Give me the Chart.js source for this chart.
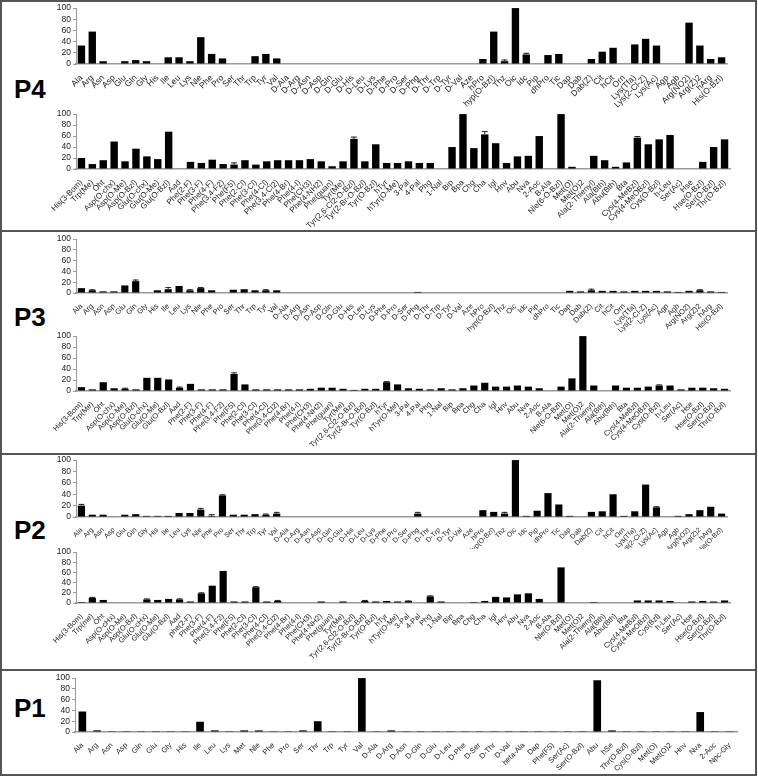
<!DOCTYPE html>
<html>
<head>
<meta charset="utf-8">
<script src="https://cdn.jsdelivr.net/npm/chart.js@4.4.1/dist/chart.umd.min.js"></script>
<style>
  html, body { margin: 0; padding: 0; background: #fff; }
  #wrap { position: relative; width: 758px; height: 776px; overflow: hidden; }
  .box { position: absolute; left: 0; width: 757px; border: 2px solid #555; box-sizing: border-box; }
  .tag { position: absolute; left: 14px; font: bold 26px "Liberation Sans", Arial, sans-serif; line-height: 1; color: #000; }
  canvas { position: absolute; left: 0; }
</style>
</head>
<body>
<div id="wrap">
  <div class="box" style="top:0;height:232px"></div>
  <div class="box" style="top:230px;height:225px"></div>
  <div class="box" style="top:453px;height:218px"></div>
  <div class="box" style="top:669px;height:107px"></div>
  <div class="tag" style="top:76px">P4</div>
  <div class="tag" style="top:304px">P3</div>
  <div class="tag" style="top:517px">P2</div>
  <div class="tag" style="top:695px">P1</div>
  <canvas id="p4a"></canvas>
  <canvas id="p4b"></canvas>
  <canvas id="p3a"></canvas>
  <canvas id="p3b"></canvas>
  <canvas id="p2a"></canvas>
  <canvas id="p2b"></canvas>
  <canvas id="p1"></canvas>
</div>
<script>
// --- categories ---
const labelsA = ['Ala','Arg','Asn','Asp','Glu','Gln','Gly','His','Ile','Leu','Lys','Nle','Phe','Pro','Ser','Thr','Trp','Tyr','Val',
  'D-Ala','D-Arg','D-Asn','D-Asp','D-Gln','D-Glu','D-His','D-Leu','D-Lys','D-Phe','D-Pro','D-Ser','D-Phg','D-Thr','D-Trp','D-Tyr','D-Val',
  'Aze','hPro','hyp(O-Bzl)','Thz','Oic','Idc','Pip','dhPro','Tic','Dap','Dab','Dab(Z)','Cit','hCit','Orn',
  'Lys(Tfa)','Lys(2-Cl-Z)','Lys(Ac)','Agp','Agb','Arg(NO2)','Arg(Z)2','hArg','His(O-Bzl)'];

const labelsB = ['His(3-Bom)','Trp(Me)','Oht','Asp(O-chx)','Asp(O-Me)','Asp(O-Bzl)','Glu(O-chx)','Glu(O-Me)','Glu(O-Bzl)','Aad',
  'Phe(2-F)','Phe(3-F)','Phe(4-F)','Phe(3,4-F2)','Phe(F5)','Phe(2-Cl)','Phe(3-Cl)','Phe(4-Cl)','Phe(3,4-Cl2)','Phe(4-Br)',
  'Phe(4-I)','Phe(CH3)','Phe(4-NH2)','Phe(guan)','Tyr(Me)','Tyr(2,6-Cl2-O-Bzl)','Tyr(2-Br-O-Bzl)','Tyr(O-Bzl)','hTyr','hTyr(O-Me)',
  '3-Pal','4-Pal','Phg','1-Nal','Bip','Bpa','Chg','Cha','Igl','Hnv','Abu','Nva','2-Aoc','B-Ala','Nle(6-O-Bzl)',
  'Met(O)','Met(O)2','Ala(2-Thienyl)','Ala(Bth)','Abu(Bth)','Bta','Cys(4-MeBzl)','Cys(4-MeOBzl)','Cys(O-Bzl)','h-Leu',
  'Ser(Ac)','Hse','Hse(O-Bzl)','Ser(O-Bzl)','Thr(O-Bzl)'];

const labelsP1 = ['Ala','Arg','Asn','Asp','Gln','Glu','Gly','His','Ile','Leu','Lys','Met','Nle','Phe','Pro','Ser','Thr','Trp','Tyr','Val',
  'D-Ala','D-Arg','D-Asn','D-Gln','D-Glu','D-Leu','D-Phe','D-Ser','D-Thr','D-Val','beta-Ala','Dap','Phe(F5)','Ser(Ac)','Ser(O-Bzl)',
  'Abu','hSe','Thr(O-Bzl)','Cys(O-Bzl)','Met(O)','Met(O)2','Hnv','Nva','2-Aoc','Npc-Gly'];

// label spelling used in the P2 panel
const p2Names = {'hyp(O-Bzl)':'Hyp(O-Bzl)','Trp(Me)':'Trp(me)','Asp(O-chx)':'Asp(O-cHx)','Glu(O-chx)':'Glu(O-cHx)',
  'Phe(2-F)':'phe(2-F)','Nle(6-O-Bzl)':'Nle(O-Bzl)','Cys(O-Bzl)':'Cys(Bzl)'};

const yTicks = [0, 20, 40, 60, 80, 100];

// --- values (%) ---
const p4a = [33,58,5,0,5,7,5,0,12,12,5,48,18,10,0,0,14,18,10,
  0,0,0,0,0,0,0,0,0,0,0,0,0,0,0,0,0,
  0,9,58,5,100,17,0,16,18,0,0,9,22,29,0,
  35,45,33,0,0,74,33,9,12];
const p4aErr = {'Thz':3, 'Idc':3};

const p4b = [20,9,16,50,14,37,23,18,68,0,
  13,11,17,9,8,16,8,14,16,16,
  16,18,14,5,14,55,14,45,11,11,
  14,11,11,0,40,100,38,63,47,11,23,24,60,0,100,
  4,0,24,16,4,12,57,45,54,62,
  0,0,13,40,54];
const p4bErr = {'Phe(F5)':4, 'Tyr(2,6-Cl2-O-Bzl)':4, 'Cha':6, 'Cys(4-MeBzl)':3};

const p3a = [9,5,3,3,14,22,0,5,7,13,5,9,5,1,6,7,5,5,5,
  0,0,0,0,0,0,0,0,1,0,0,0,2,0,0,0,0,
  0,0,0,0,0,1,0,0,0,4,3,5,4,4,3,
  4,4,4,3,2,4,5,3,2];
const p3aErr = {'Arg':2,'Gln':3,'Ile':4,'Lys':2,'Nle':2,'Tyr':2,'Dab(Z)':3,'Arg(Z)2':2};

const p3b = [7,3,16,5,4,3,24,24,21,6,
  13,3,3,3,31,12,3,3,3,3,
  3,4,6,6,4,2,4,4,16,12,
  5,4,3,5,3,5,10,15,8,8,10,8,5,0,8,
  23,100,10,0,10,6,6,8,10,10,
  3,6,6,5,4];
const p3bErr = {'Asp(O-Me)':2,'Aad':2,'Phe(F5)':3,'hTyr':2,'Cys(O-Bzl)':2};

const p2a = [20,4,4,1,4,5,2,2,2,7,7,13,2,38,4,4,5,4,6,
  0,0,0,0,0,0,0,0,0,0,0,0,6,0,0,0,0,
  0,12,9,6,100,2,11,42,22,2,0,9,10,40,2,
  10,57,17,0,2,5,12,18,6];
const p2aErr = {'Ala':3,'Nle':3,'Phe':3,'Pro':2,'Tyr':2,'Val':3,'D-Phg':3,'Thz':3,'Lys(Ac)':2};

const p2b = [2,10,6,1,1,1,7,6,8,7,
  3,19,34,63,3,3,31,3,4,1,
  1,1,3,1,3,1,4,3,4,3,
  4,1,13,3,1,1,2,4,12,11,17,19,8,1,70,
  1,1,2,1,1,1,5,5,5,4,
  1,3,4,3,5];
const p2bErr = {'Trp(Me)':2,'Glu(O-chx)':2,'Aad':2,'Phe(3-F)':2,'Phe(3-Cl)':2,'Phe(3,4-Cl2)':2,'Tyr(2-Br-O-Bzl)':2,'3-Pal':1,'Phg':2};

const p1 = [38,3,1.5,1.5,1.5,1.5,1.5,1.5,19,3,1.5,3,3,1.5,1.5,3,20,1.5,1.5,100,
  1.5,3,1.5,1.5,1.5,1.5,1.5,1.5,1.5,1.5,1.5,1.5,1.5,1.5,1.5,
  96,3,1.5,1.5,1.5,1.5,1.5,37,1.5,1.5];

// --- layout of each plot (pixels in the 758x776 page) ---
const PAD_TOP = 6;
const layouts = {
  p4a: {top: 7,   bottom: 64,  labelH: 44, left: 76, right: 727, font: 8.5, bar: 0.68},
  p4b: {top: 113, bottom: 169, labelH: 60, left: 76, right: 730, font: 8,   bar: 0.68},
  p3a: {top: 238, bottom: 293, labelH: 40, left: 76, right: 727, font: 7.5, bar: 0.66},
  p3b: {top: 335, bottom: 391, labelH: 60, left: 76, right: 730, font: 7.5, bar: 0.66},
  p2a: {top: 459, bottom: 517, labelH: 32, left: 76, right: 727, font: 7,   bar: 0.66},
  p2b: {top: 551, bottom: 603, labelH: 66, left: 76, right: 730, font: 7.5, bar: 0.66},
  p1:  {top: 677, bottom: 732, labelH: 40, left: 75, right: 737, font: 7.5, bar: 0.52}
};

function errorPlugin(labels, errs) {
  return {
    id: 'errorBars',
    afterDatasetsDraw(chart) {
      const meta = chart.getDatasetMeta(0);
      const vals = chart.data.datasets[0].data;
      const y = chart.scales.y;
      const ctx = chart.ctx;
      ctx.save();
      ctx.strokeStyle = '#222';
      ctx.lineWidth = 1;
      labels.forEach((name, i) => {
        const e = errs[name];
        if (!e) return;
        const bar = meta.data[i];
        const y0 = y.getPixelForValue(vals[i]);
        const y1 = y.getPixelForValue(vals[i] + e);
        const hw = bar.width * 0.4;
        ctx.beginPath();
        ctx.moveTo(bar.x, y0); ctx.lineTo(bar.x, y1);
        ctx.moveTo(bar.x - hw, y1 + 0.5); ctx.lineTo(bar.x + hw, y1 + 0.5);
        ctx.stroke();
      });
      ctx.restore();
    }
  };
}

function makeChart(id, labels, values, errs, names) {
  const L = layouts[id];
  const canvas = document.getElementById(id);
  const h = PAD_TOP + (L.bottom - L.top) + L.labelH;
  canvas.width = 758; canvas.height = h;
  canvas.style.top = (L.top - PAD_TOP) + 'px';
  const shown = names ? labels.map(s => names[s] || s) : labels;

  return new Chart(canvas.getContext('2d'), {
    type: 'bar',
    data: {
      labels: shown,
      datasets: [{
        data: values,
        backgroundColor: '#000',
        borderWidth: 0,
        barPercentage: L.bar,
        categoryPercentage: 1
      }]
    },
    options: {
      responsive: false,
      animation: false,
      events: [],
      layout: { padding: { top: PAD_TOP, right: 758 - L.right, left: 0, bottom: 0 } },
      plugins: { legend: { display: false }, tooltip: { enabled: false } },
      scales: {
        x: {
          offset: true,
          grid: { display: false },
          border: { color: '#9a9a9a', width: 1.5 },
          ticks: {
            autoSkip: false, maxRotation: 45, minRotation: 45, padding: 1,
            color: '#222', font: { family: 'Liberation Sans', size: L.font }
          },
          afterFit(s) { s.height = L.labelH; }
        },
        y: {
          min: 0, max: 100,
          afterBuildTicks(s) { s.ticks = yTicks.map(v => ({ value: v })); },
          grid: { drawOnChartArea: false, drawTicks: true, tickLength: 3, color: '#9a9a9a' },
          border: { color: '#9a9a9a', width: 1 },
          ticks: { autoSkip: false, padding: 2, color: '#222', font: { family: 'Liberation Sans', size: 8.5 } },
          afterFit(s) { s.width = L.left; }
        }
      }
    },
    plugins: errs ? [errorPlugin(labels, errs)] : []
  });
}

makeChart('p4a', labelsA, p4a, p4aErr);
makeChart('p4b', labelsB, p4b, p4bErr);
makeChart('p3a', labelsA, p3a, p3aErr);
makeChart('p3b', labelsB, p3b, p3bErr);
makeChart('p2a', labelsA, p2a, p2aErr, p2Names);
makeChart('p2b', labelsB, p2b, p2bErr, p2Names);
makeChart('p1', labelsP1, p1, null);
</script>
</body>
</html>
